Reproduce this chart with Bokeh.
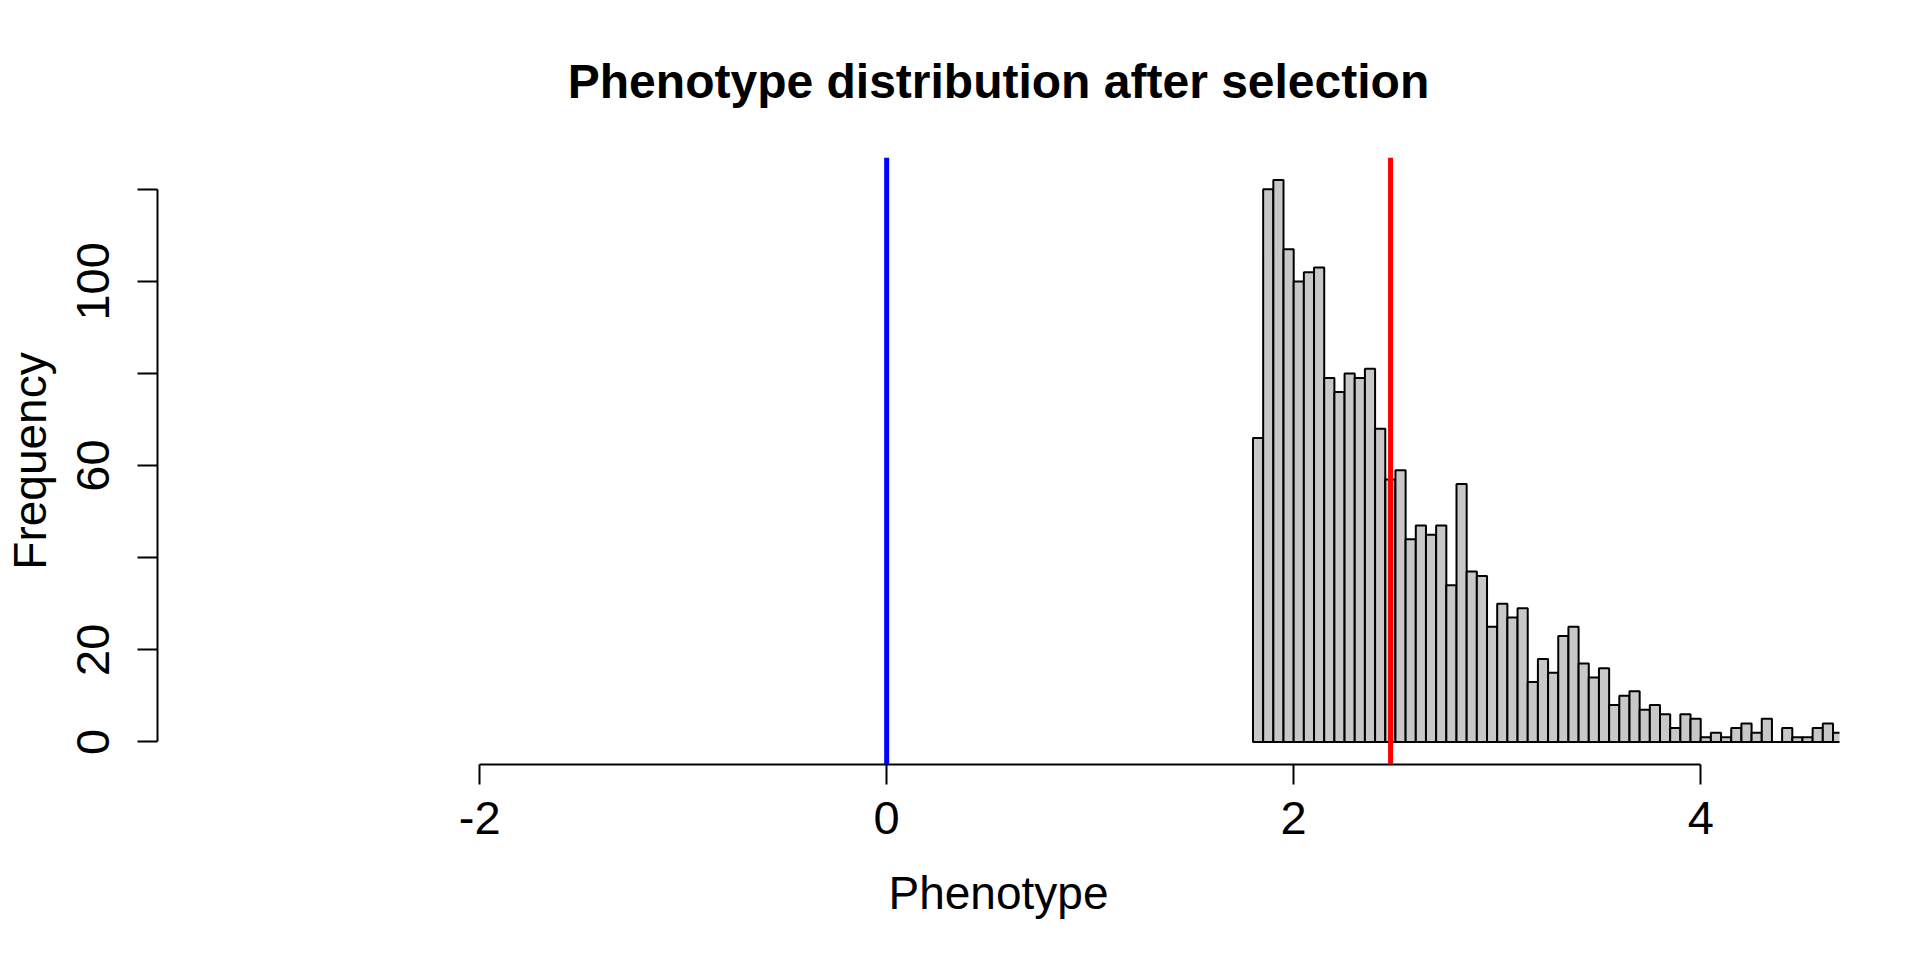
from bokeh.plotting import figure
from bokeh.models import Range1d, FixedTicker, Span
from bokeh.embed import file_html
from bokeh.resources import INLINE

# ---- data ----
breaks = [1.80, 1.85, 1.90, 1.95, 2.00, 2.05, 2.10, 2.15, 2.20, 2.25,
          2.30, 2.35, 2.40, 2.45, 2.50, 2.55, 2.60, 2.65, 2.70, 2.75,
          2.80, 2.85, 2.90, 2.95, 3.00, 3.05, 3.10, 3.15, 3.20, 3.25,
          3.30, 3.35, 3.40, 3.45, 3.50, 3.55, 3.60, 3.65, 3.70, 3.75,
          3.80, 3.85, 3.90, 3.95, 4.00, 4.05, 4.10, 4.15, 4.20, 4.25,
          4.30, 4.35, 4.40, 4.45, 4.50, 4.55, 4.60, 4.65, 4.70]
counts = [66, 120, 122, 107, 100, 102, 103, 79, 76, 80,
          79, 81, 68, 57, 59, 44, 47, 45, 47, 34,
          56, 37, 36, 25, 30, 27, 29, 13, 18, 15,
          23, 25, 17, 14, 16, 8, 10, 11, 7, 8,
          6, 3, 6, 5, 1, 2, 1, 3, 4, 2,
          5, 0, 3, 1, 1, 3, 4, 2]
mean_before = 0.0
mean_after = 2.476
x_ticks = [-2, 0, 2, 4]
x_tick_labels = {-2: "-2", 0: "0", 2: "2", 4: "4"}
y_ticks = [0, 20, 40, 60, 80, 100, 120]
y_tick_labels = {0: "0", 20: "20", 40: "", 60: "60", 80: "", 100: "100", 120: ""}

title_text = "Phenotype distribution after selection"
xlabel_text = "Phenotype"
ylabel_text = "Frequency"

FONT = "Liberation Sans"

# ---- layout ----
W, H = 1904, 944
BL, BT, BR, BB = 157, 157, 65, 180
X0, X1 = -3.583, 4.682
Y0, Y1 = -4.91, 126.9

p = figure(width=W, height=H, x_range=Range1d(X0, X1), y_range=Range1d(Y0, Y1),
           output_backend="svg", toolbar_location=None,
           min_border_left=BL, min_border_top=BT, min_border_right=BR,
           min_border_bottom=BB, title=title_text)
p.outline_line_color = None
p.xgrid.visible = False
p.ygrid.visible = False
p.background_fill_color = "white"
p.border_fill_color = "white"

p.title.text_font = FONT
p.title.text_font_size = "48px"
p.title.text_font_style = "bold"
p.title.text_color = "black"
p.title.align = "center"
p.title.text_line_height = 1.0
p.title.standoff = 100

p.quad(left=breaks[:-1], right=breaks[1:], bottom=0, top=counts,
       fill_color="#C8C8C8", line_color="black", line_width=2)

p.add_layout(Span(location=mean_before, dimension="height", line_color="#0000FF", line_width=5))
p.add_layout(Span(location=mean_after, dimension="height", line_color="#FF0000", line_width=5))

for ax in (p.xaxis[0], p.yaxis[0]):
    ax.axis_line_color = "black"
    ax.axis_line_width = 2
    ax.major_tick_line_color = "black"
    ax.major_tick_line_width = 2
    ax.major_tick_out = 20
    ax.major_tick_in = 0
    ax.minor_tick_line_color = None
    ax.major_label_text_font = FONT
    ax.major_label_text_font_size = "47px"
    ax.major_label_text_color = "black"
    ax.axis_label_text_font = FONT
    ax.axis_label_text_font_size = "46px"
    ax.axis_label_text_font_style = "normal"
    ax.axis_label_text_color = "black"

xa = p.xaxis[0]
xa.ticker = FixedTicker(ticks=x_ticks)
xa.bounds = (x_ticks[0], x_ticks[-1])
xa.major_label_overrides = dict(x_tick_labels)
xa.major_label_standoff = 17
xa.axis_label = xlabel_text
xa.axis_label_standoff = 30

ya = p.yaxis[0]
ya.ticker = FixedTicker(ticks=y_ticks)
ya.bounds = (y_ticks[0], y_ticks[-1])
ya.major_label_overrides = dict(y_tick_labels)
ya.major_label_orientation = "parallel"
ya.major_label_standoff = 28
ya.axis_label = ylabel_text
ya.axis_label_standoff = 19

open("out.html", "w").write(file_html(p, INLINE))
